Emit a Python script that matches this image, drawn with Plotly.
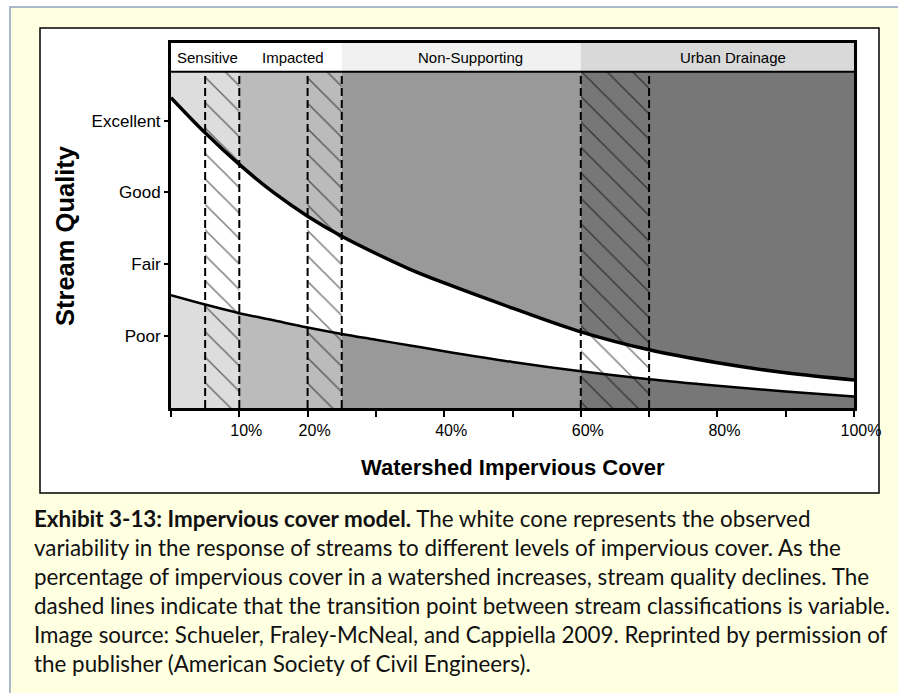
"""Modèle de couverture imperméable (Impervious Cover Model) en Plotly."""

import plotly.graph_objects as go

# données
impervious = [0, 5, 10, 15, 20, 25, 30, 35, 40, 50, 60, 70, 80, 90, 100]
upper_quality = [4.32, 3.83, 3.39, 3.00, 2.67, 2.39, 2.15, 1.93, 1.74, 1.39, 1.06, 0.81, 0.63, 0.49, 0.39]
lower_quality = [1.57, 1.44, 1.32, 1.22, 1.12, 1.03, 0.95, 0.87, 0.79, 0.64, 0.51, 0.40, 0.31, 0.23, 0.16]

zones = ["Sensitive", "Impacted", "Non-Supporting", "Urban Drainage"]
zone_start = [0, 10, 25, 60]
zone_end = [10, 25, 60, 100]
zone_colors = ["#dddddd", "#bbbbbb", "#999999", "#777777"]
header_colors = ["#ffffff", "#ffffff", "#f1f1f1", "#d9d9d9"]
label_x = [5.3, 17.9, 43.8, 82.3]

transition_start = [5, 20, 60]
transition_end = [10, 25, 70]

quality_values = [1, 2, 3, 4]
quality_labels = ["Poor", "Fair", "Good", "Excellent"]

x_ticks = [0, 10, 20, 30, 40, 50, 60, 70, 80, 90, 100]
x_tick_labels = ["", "10%", "20%", "", "40%", "", "60%", "", "80%", "", "100%"]

caption_lines = [
    "<b>Exhibit 3-13: Impervious cover model.</b> The white cone represents the observed",
    "variability in the response of streams to different levels of impervious cover. As the",
    "percentage of impervious cover in a watershed increases, stream quality declines. The",
    "dashed lines indicate that the transition point between stream classifications is variable.",
    "Image source: Schueler, Fraley-McNeal, and Cappiella 2009. Reprinted by permission of",
    "the publisher (American Society of Civil Engineers).",
]

W, H = 898, 693
L, R, T, B = 171, 44, 43, 285
BODY_TOP = 4.68
Y_TOP = 5.08
ARIAL = "Arial, Liberation Sans, sans-serif"


def px(x):
    return (x - L) / (W - L - R)


def py(y):
    return (H - B - y) / (H - T - B)


centers = [(a + b) / 2 for a, b in zip(zone_start, zone_end)]
widths = [b - a for a, b in zip(zone_start, zone_end)]

fig = go.Figure()

# fonds des zones et bandeau d'en-tête
fig.add_trace(go.Bar(
    x=centers, y=[BODY_TOP] * len(zones), width=widths,
    marker={"color": zone_colors, "line": {"width": 0}},
    hoverinfo="skip", showlegend=False,
))
fig.add_trace(go.Bar(
    x=centers, y=[Y_TOP - BODY_TOP] * len(zones), base=BODY_TOP, width=widths,
    marker={"color": header_colors, "line": {"width": 0}},
    hoverinfo="skip", showlegend=False,
))

# cône blanc
fig.add_trace(go.Scatter(
    x=impervious, y=lower_quality, mode="lines",
    line={"width": 0, "shape": "spline"}, showlegend=False, hoverinfo="skip",
))
fig.add_trace(go.Scatter(
    x=impervious, y=upper_quality, mode="lines", fill="tonexty", fillcolor="white",
    line={"width": 0, "shape": "spline"}, showlegend=False, hoverinfo="skip",
))

# zones de transition hachurées
hx, hy = [], []
for a, b in zip(transition_start, transition_end):
    hx += [a, b, b, a, a, None]
    hy += [0, 0, BODY_TOP, BODY_TOP, 0, None]
fig.add_trace(go.Scatter(
    x=hx, y=hy, mode="lines", fill="toself", fillcolor="rgba(0,0,0,0)",
    fillpattern={"shape": "\\", "size": 18, "solidity": 0.085,
                 "fgcolor": "black", "bgcolor": "rgba(0,0,0,0)"},
    line={"width": 0}, showlegend=False, hoverinfo="skip",
))

# lignes pointillées
dx, dy = [], []
for v in transition_start + transition_end:
    dx += [v, v, None]
    dy += [0, BODY_TOP, None]
fig.add_trace(go.Scatter(
    x=dx, y=dy, mode="lines",
    line={"color": "black", "width": 2, "dash": "8px,4px"},
    showlegend=False, hoverinfo="skip",
))

# courbes
fig.add_trace(go.Scatter(
    x=impervious, y=upper_quality, mode="lines",
    line={"color": "black", "width": 3.5, "shape": "spline"},
    showlegend=False, hoverinfo="skip",
))
fig.add_trace(go.Scatter(
    x=impervious, y=lower_quality, mode="lines",
    line={"color": "black", "width": 2.5, "shape": "spline"},
    showlegend=False, hoverinfo="skip",
))

shapes = [
    {"type": "rect", "xref": "paper", "yref": "paper", "layer": "below",
     "x0": px(10), "x1": px(910), "y0": py(7), "y1": py(710),
     "fillcolor": "#ffffe1", "line": {"color": "#8ea2bf", "width": 1.5}},
    {"type": "rect", "xref": "paper", "yref": "paper", "layer": "below",
     "x0": px(40), "x1": px(879), "y0": py(28), "y1": py(493),
     "fillcolor": "white", "line": {"color": "black", "width": 1.5}},
    {"type": "line", "xref": "paper", "yref": "y", "x0": 0, "x1": 1,
     "y0": BODY_TOP, "y1": BODY_TOP, "line": {"color": "black", "width": 2}},
]

annotations = []
for name, lx in zip(zones, label_x):
    annotations.append({
        "x": lx, "y": (BODY_TOP + Y_TOP) / 2, "xref": "x", "yref": "y",
        "text": name, "showarrow": False,
        "font": {"family": ARIAL, "size": 15, "color": "black"},
    })
annotations.append({
    "x": px(65), "y": py(236), "xref": "paper", "yref": "paper",
    "xanchor": "center", "yanchor": "middle",
    "text": "<b>Stream Quality</b>", "textangle": -90, "showarrow": False,
    "font": {"family": ARIAL, "size": 25.5, "color": "black"},
})
annotations.append({
    "x": px(513), "y": py(467), "xref": "paper", "yref": "paper",
    "xanchor": "center", "yanchor": "middle",
    "text": "<b>Watershed Impervious Cover</b>", "showarrow": False,
    "font": {"family": ARIAL, "size": 22, "color": "black"},
})
for i, line in enumerate(caption_lines):
    annotations.append({
        "x": px(32), "y": py(518 + 29 * i), "xref": "paper", "yref": "paper",
        "xanchor": "left", "yanchor": "middle", "text": line, "showarrow": False,
        "font": {"family": "Lato, Carlito, sans-serif", "size": 22.4, "color": "#111111"},
    })

fig.update_layout(
    width=W, height=H,
    margin={"l": L, "r": R, "t": T, "b": B, "pad": 0},
    paper_bgcolor="white",
    plot_bgcolor="white",
    barmode="overlay",
    showlegend=False,
    shapes=shapes,
    annotations=annotations,
    xaxis={
        "range": [0, 100], "tickvals": x_ticks, "ticktext": x_tick_labels,
        "ticks": "outside", "ticklen": 6, "tickwidth": 2, "tickcolor": "black",
        "ticklabelshift": 7, "ticklabelstandoff": 0,
        "showgrid": False, "zeroline": False,
        "showline": True, "linecolor": "black", "linewidth": 3, "mirror": True,
        "tickfont": {"family": ARIAL, "size": 16, "color": "black"},
    },
    yaxis={
        "range": [0, Y_TOP], "tickvals": quality_values, "ticktext": quality_labels,
        "ticks": "outside", "ticklen": 4, "tickwidth": 2, "tickcolor": "black",
        "ticklabelstandoff": 0,
        "showgrid": False, "zeroline": False,
        "showline": True, "linecolor": "black", "linewidth": 3, "mirror": True,
        "tickfont": {"family": ARIAL, "size": 17, "color": "black"},
    },
)

fig.write_html(
    "out.html",
    config={"displayModeBar": False},
    post_script="document.body.style.margin = '0';",
)
